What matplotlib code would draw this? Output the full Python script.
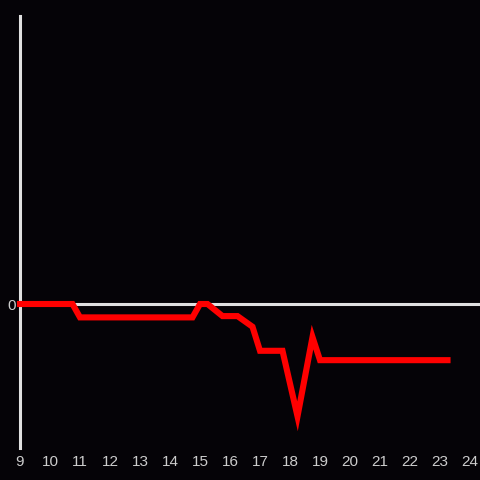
import matplotlib
matplotlib.use("Agg")
import matplotlib.pyplot as plt

# hours of the day and the value at each corner of the line
hours = [9.0, 10.75, 11.0, 14.75, 15.0, 15.25, 15.75, 16.25, 16.75, 17.0,
         17.75, 18.25, 18.75, 19.0, 23.25]
values = [0.0, 0.0, -0.093, -0.093, 0.0, 0.0, -0.084, -0.084, -0.158, -0.325,
          -0.325, -0.78, -0.23, -0.39, -0.39]
xticks = list(range(9, 25))

bg = "#050307"
fig = plt.figure(figsize=(4.8, 4.8), dpi=100, facecolor=bg)
ax = fig.add_axes([20 / 480, 32 / 480, 460 / 480, 432 / 480], facecolor=bg)

ax.axhline(0, color="#e0e0e0", lw=2.2, zorder=1)
ax.plot(hours, values, color="#ff0000", lw=4.4, solid_capstyle="projecting",
        solid_joinstyle="miter", zorder=3, clip_on=False)

ax.set_xlim(9, 9 + 460 / 30)
ax.set_ylim(-1, 2)
ax.set_xticks(xticks)
ax.set_xticklabels([str(t) for t in xticks])
ax.set_yticks([0])
ax.set_yticklabels(["0"])
ax.tick_params(axis="both", length=0, colors="#cccccc", labelsize=11)
ax.tick_params(axis="x", pad=5)
ax.tick_params(axis="y", pad=3)
for lab in ax.get_xticklabels() + ax.get_yticklabels():
    lab.set_family(["Liberation Sans", "DejaVu Sans"])

for side in ["top", "right", "bottom"]:
    ax.spines[side].set_visible(False)
ax.spines["left"].set_color("#e0e0e0")
ax.spines["left"].set_linewidth(2.2)
ax.spines["left"].set_zorder(2)

fig.savefig("out.png", dpi=100, facecolor=bg)
